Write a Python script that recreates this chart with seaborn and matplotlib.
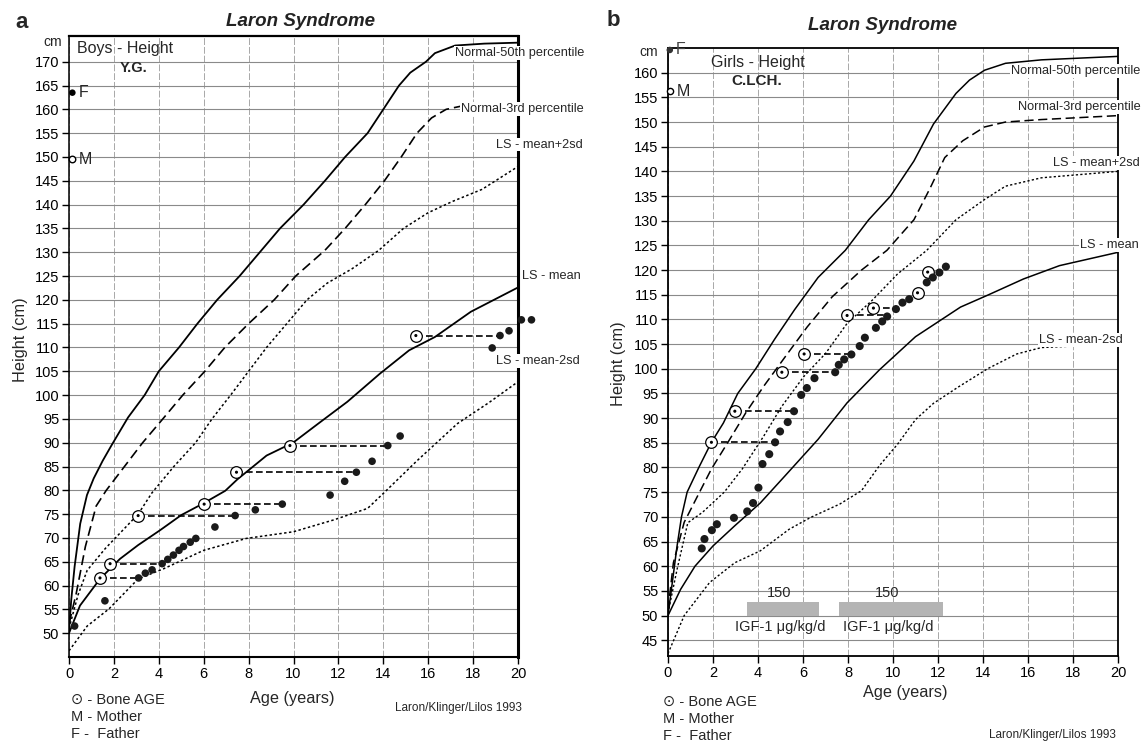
import numpy as np
import pandas as pd
import matplotlib
matplotlib.use("Agg")
import matplotlib.pyplot as plt
import seaborn as sns

# ---------------- data: panel a (boys) ----------------
a_age_n50 = [0, 0.1, 0.25, 0.5, 0.8, 1.1, 1.5, 1.9, 2.63, 3.37, 4.0, 4.9, 5.72, 6.6, 7.6, 8.5, 9.4,
             10.45, 11.4, 12.3, 13.3, 14.0, 14.7, 15.2, 15.9, 16.3, 17.2, 18.5, 20]
a_h_n50 = [50.5, 57, 64, 73, 79, 82.5, 86.2, 89.5, 95.3, 100, 105, 110, 115, 120, 125, 130, 135,
           140, 145, 150, 155, 160, 165, 167.7, 170, 171.8, 173.4, 173.8, 174]
a_age_n3 = [0, 0.32, 0.73, 1.21, 1.66, 2.47, 3.28, 4.18, 5.07, 6.05, 6.94, 8.0, 9.14, 10.1, 11.4,
            12.3, 13.2, 14.05, 14.8, 15.5, 16.15, 16.8, 17.6, 20]
a_h_n3 = [52, 58.3, 68.2, 76.7, 80, 85, 90, 95, 100, 105, 110, 115, 120, 125, 130.4,
          135, 140, 145, 150, 155, 158.2, 160, 160.8, 161.2]
a_age_p2 = [0, 0.4, 0.81, 1.62, 2.27, 3.08, 3.7, 4.67, 5.64, 6.37, 7.2, 8.0, 8.8, 9.7, 10.6, 11.5,
            12.6, 13.8, 14.9, 16.0, 17.1, 18.4, 20]
a_h_p2 = [51, 58, 63.2, 67.8, 71, 75, 79.5, 85, 90, 95, 100, 105, 110, 115, 120, 123.5,
          126.5, 130.4, 135, 138.3, 140.7, 143.2, 148]
a_age_mean = [0, 0.49, 1.38, 2.27, 3.08, 4.05, 5.0, 6.0, 6.96, 7.5, 8.8, 9.98, 11.1, 12.4, 13.85,
              15.15, 16.3, 17.9, 20]
a_h_mean = [50, 55.8, 61.4, 65.6, 68.5, 71.6, 74.8, 77.3, 79.9, 82.3, 87.3, 90, 94, 98.6, 104.5,
            109.4, 112.2, 117.5, 122.6]
a_age_m2 = [0, 0.81, 1.78, 3.08, 4.2, 6.0, 7.9, 10.0, 11.8, 13.3, 14.1, 15.5, 17.3, 18.7, 20]
a_h_m2 = [46.3, 51.5, 55.1, 61.4, 63.5, 67.4, 69.9, 71.3, 73.8, 76.2, 79.8, 86.2, 94, 98.4, 102.8]

a_pt_age = [0.25, 1.6, 3.1, 3.4, 3.7, 4.15, 4.4, 4.65, 4.9, 5.1, 5.4, 5.65, 6.5, 7.4, 8.3, 9.5,
            11.63, 12.28, 12.8, 13.5, 14.2, 14.75, 18.85, 19.2, 19.6, 20.15, 20.6]
a_pt_h = [51.5, 56.8, 61.6, 62.6, 63.3, 64.6, 65.5, 66.4, 67.4, 68.2, 69.1, 69.9, 72.3, 74.7,
          75.9, 77.1, 79.0, 81.9, 83.8, 86.1, 89.4, 91.4, 109.9, 112.5, 113.5, 115.8, 115.8]
a_bone_age = [1.38, 1.83, 3.08, 6.02, 7.46, 9.84, 15.45]
a_bone_chrono = [3.1, 4.15, 7.4, 9.5, 12.8, 14.2, 19.2]
a_bone_h = [61.6, 64.6, 74.7, 77.1, 83.8, 89.4, 112.5]
a_father, a_mother = 163.5, 149.5

# ---------------- data: panel b (girls) ----------------
b_age_n50 = [0, 0.2, 0.4, 0.6, 0.85, 1.37, 1.93, 2.46, 3.1, 3.9, 4.74, 5.63, 6.67, 7.88, 8.92,
             9.89, 10.93, 11.8, 12.8, 13.4, 14.07, 15.0, 16.6, 20]
b_h_n50 = [50, 57, 64, 70, 75, 80, 85.1, 89, 95, 100, 106, 112, 118.5, 124, 130.2,
           135, 142.1, 149.6, 155.8, 158.5, 160.5, 161.9, 162.6, 163.3]
b_age_n3 = [0, 0.24, 0.72, 1.29, 1.93, 2.65, 3.46, 4.26, 5.22, 6.19, 7.3, 8.6, 9.73, 10.93, 11.66,
            12.3, 13.1, 14.07, 15.0, 16.6, 20]
b_h_n3 = [51.2, 60.7, 68.9, 74, 79.7, 85, 91.1, 96.5, 102.5, 108.5, 114.6, 120, 124, 130.2, 136.7,
          142.8, 146.2, 149, 150, 150.5, 151.3]
b_age_p2 = [0, 0.4, 0.88, 1.53, 2.5, 3.3, 4.26, 5.06, 6.03, 7.0, 7.96, 9.08, 10.2, 11.5, 12.8,
            14.07, 15.0, 16.6, 20]
b_h_p2 = [50.5, 59.3, 68.8, 70.9, 75, 79.7, 86.4, 92.4, 98.4, 103.1, 109.2, 113.9, 119.2, 124, 130.2,
          134.3, 137, 138.7, 140]
b_age_mean = [0, 0.56, 1.2, 2.0, 2.97, 4.1, 5.22, 6.67, 7.96, 9.4, 11.0, 13.0, 14.2, 15.8, 17.4, 20]
b_h_mean = [50, 55.3, 60, 64.1, 68.2, 72.8, 78.4, 85.7, 93.1, 99.8, 106.5, 112.5, 114.9, 118.2,
            120.9, 123.6]
b_age_m2 = [0, 0.72, 1.85, 2.97, 4.1, 5.39, 6.35, 7.64, 8.6, 9.4, 10.2, 11.0, 11.8, 12.9, 14.2,
            15.5, 16.6, 20]
b_h_m2 = [42.3, 50, 56.7, 60.7, 63.1, 67.5, 69.9, 72.6, 75.3, 80.4, 84.7, 89.7, 93, 96.3, 100,
          103, 104.3, 105]

b_pt_age = [1.5, 1.62, 1.95, 2.17, 2.93, 3.52, 3.78, 4.02, 4.2, 4.5, 4.76, 4.98, 5.32, 5.6, 5.92,
            6.17, 6.51, 7.43, 7.59, 7.83, 8.15, 8.52, 8.75, 9.24, 9.52, 9.74, 10.13, 10.42, 10.72,
            11.5, 11.77, 12.06, 12.35]
b_pt_h = [63.6, 65.5, 67.3, 68.5, 69.8, 71.1, 72.8, 75.9, 80.7, 82.7, 85.1, 87.3, 89.2, 91.4, 94.7,
          96.1, 98.1, 99.3, 100.8, 101.9, 102.9, 104.6, 106.3, 108.3, 109.6, 110.6, 112.1, 113.4,
          114.1, 117.5, 118.5, 119.5, 120.7]
b_bone_age = [1.93, 2.97, 5.06, 6.05, 7.96, 9.13, 11.09, 11.54]
b_bone_h = [85.1, 91.4, 99.3, 103.0, 110.8, 112.3, 115.4, 119.6]
b_bone_chrono = [4.76, 5.6, 7.43, 8.15, 9.74, 10.13]
b_father, b_mother = 164.6, 156.2

igf_start = [3.5, 7.6]
igf_end = [6.7, 12.2]
igf_dose = ["150", "150"]

# ---------------- figure ----------------
sns.set_theme(style="white")
plt.rcParams["font.family"] = ["Liberation Sans", "DejaVu Sans"]
plt.rcParams["hatch.color"] = "#8a8a8a"
W, H = 1143, 741
fig = plt.figure(figsize=(W / 100, H / 100), dpi=100)
fig.patch.set_facecolor("white")


def rect(l, r, t, b):
    return [l / W, 1 - b / H, (r - l) / W, (b - t) / H]


axA = fig.add_axes(rect(69, 518, 36, 657))
axB = fig.add_axes(rect(668, 1118, 48, 656))

SOLID = "-"
DASH = (0, (6, 3))
DOT = (0, (1.6, 1.6))


def curve(ax, x, y, ls, lw=1.2):
    sns.lineplot(x=x, y=y, ax=ax, color="black", lw=lw, linestyle=ls, sort=False,
                 estimator=None, zorder=3)


def style_axes(ax, yticks, ylim):
    ax.set_xlim(0, 20)
    ax.set_ylim(*ylim)
    ax.set_xticks(range(0, 21, 2))
    ax.set_yticks(yticks)
    ax.grid(True, axis="y", color="#8a8a8a", lw=0.8, ls="-", zorder=0)
    ax.grid(True, axis="x", color="#a8a8a8", lw=0.7, ls=(0, (7, 2)), zorder=0)
    ax.tick_params(axis="both", which="major", direction="out", length=5, width=1,
                   bottom=True, left=True, labelsize=10.5, pad=2, colors="black")
    for s in ax.spines.values():
        s.set_color("black")
        s.set_visible(True)


def bone(ax, ages, hs, chrono):
    segs = []
    for i, c in enumerate(chrono):
        segs.append({"pair": i, "age": ages[i], "h": hs[i]})
        segs.append({"pair": i, "age": c, "h": hs[i]})
    df = pd.DataFrame(segs)
    sns.lineplot(data=df, x="age", y="h", units="pair", estimator=None, ax=ax, color="black",
                 lw=1.2, linestyle=(0, (4, 2)), zorder=3)
    sns.scatterplot(x=ages, y=hs, ax=ax, s=70, facecolor="white", edgecolor="black",
                    linewidth=0.9, zorder=5, clip_on=False)
    sns.scatterplot(x=ages, y=hs, ax=ax, s=5, color="black", edgecolor="none", zorder=6,
                    clip_on=False)


lab_kw = dict(fontsize=9.2, va="center", ha="left", zorder=10, clip_on=False,
              bbox=dict(fc="white", ec="none", pad=0.6))

# ---------- panel a ----------
ax = axA
style_axes(ax, range(50, 171, 5), (45, 175.4))
curve(ax, a_age_n50, a_h_n50, SOLID, 1.3)
curve(ax, a_age_n3, a_h_n3, DASH, 1.2)
curve(ax, a_age_p2, a_h_p2, DOT, 1.1)
curve(ax, a_age_mean, a_h_mean, SOLID, 1.3)
curve(ax, a_age_m2, a_h_m2, DOT, 1.1)
bone(ax, a_bone_age, a_bone_h, a_bone_chrono)
sns.scatterplot(x=a_pt_age, y=a_pt_h, ax=ax, s=30, color="#1a1a1a", edgecolor="none", zorder=6,
                clip_on=False)
sns.scatterplot(x=[0.15], y=[a_father], ax=ax, s=22, color="black", edgecolor="none",
                zorder=6, clip_on=False)
sns.scatterplot(x=[0.15], y=[a_mother], ax=ax, s=22, facecolor="white", edgecolor="black",
                linewidth=1, zorder=6, clip_on=False)
ax.text(0.42, a_father, "F", fontsize=11.5, va="center", ha="left")
ax.text(0.42, a_mother, "M", fontsize=11.5, va="center", ha="left")
ax.spines["left"].set_linewidth(1.1)
ax.spines["bottom"].set_linewidth(1.5)
ax.spines["top"].set_linewidth(1.6)
ax.spines["right"].set_linewidth(2.2)
ax.text(17.2, 171.9, "Normal-50th percentile", **lab_kw)
ax.text(17.45, 160.0, "Normal-3rd percentile", **lab_kw)
ax.text(19.0, 152.6, "LS - mean+2sd", **lab_kw)
ax.text(20.2, 124.9, "LS - mean", **lab_kw)
ax.text(19.0, 107.1, "LS - mean-2sd", **lab_kw)
ax.set_xlabel("")
ax.set_ylabel("")

# ---------- panel b ----------
ax = axB
style_axes(ax, range(45, 161, 5), (41.8, 165))
for x0, x1, d in zip(igf_start, igf_end, igf_dose):
    ax.barh(y=50, width=x1 - x0, left=x0, height=2.8, align="edge", color="#b4b4b4",
            edgecolor="none", hatch="......", zorder=2)
    ax.text((x0 + x1) / 2 - 0.15, 54.6, d, fontsize=10.5, ha="center", va="center")
    ax.text((x0 + x1) / 2 - 0.1, 47.6, "IGF-1 μg/kg/d", fontsize=10.5, ha="center",
            va="center")
curve(ax, b_age_n50, b_h_n50, SOLID, 1.1)
curve(ax, b_age_n3, b_h_n3, DASH, 1.1)
curve(ax, b_age_p2, b_h_p2, DOT, 1.0)
curve(ax, b_age_mean, b_h_mean, SOLID, 1.1)
curve(ax, b_age_m2, b_h_m2, DOT, 1.0)
bone(ax, b_bone_age, b_bone_h, b_bone_chrono)
sns.scatterplot(x=b_pt_age, y=b_pt_h, ax=ax, s=34, color="#1a1a1a", edgecolor="none", zorder=6,
                clip_on=False)
sns.scatterplot(x=[0.08], y=[b_father], ax=ax, s=22, color="#333333", edgecolor="none",
                zorder=6, clip_on=False)
sns.scatterplot(x=[0.1], y=[b_mother], ax=ax, s=20, facecolor="white", edgecolor="black",
                linewidth=1, zorder=6, clip_on=False)
ax.text(0.35, b_father, "F", fontsize=11.5, va="center", ha="left", color="#444444")
ax.text(0.4, b_mother, "M", fontsize=11.5, va="center", ha="left")
for s in ax.spines.values():
    s.set_linewidth(1.3)
ax.text(15.25, 160.4, "Normal-50th percentile", **lab_kw)
ax.text(15.55, 153.1, "Normal-3rd percentile", **lab_kw)
ax.text(17.1, 141.7, "LS - mean+2sd", **lab_kw)
ax.text(18.3, 125.1, "LS - mean", **lab_kw)
ax.text(16.5, 105.8, "LS - mean-2sd", **lab_kw)
ax.set_xlabel("")
ax.set_ylabel("")

# ---------- figure texts ----------
def ft(x, y, s, **kw):
    fig.text(x / W, 1 - y / H, s, **kw)

ft(22, 22, "a", fontsize=16, fontweight="bold", ha="center", va="center")
ft(613, 20, "b", fontsize=16, fontweight="bold", ha="center", va="center")
ft(300, 22, "Laron Syndrome", fontsize=13.5, fontweight="bold", fontstyle="italic",
   ha="center", va="center", color="#222222")
ft(883, 25, "Laron Syndrome", fontsize=13.5, fontweight="bold", fontstyle="italic",
   ha="center", va="center", color="#222222")
ft(77, 49, "Boys - Height", fontsize=11.5, ha="left", va="center")
ft(120, 68, "Y.G.", fontsize=10.5, fontweight="bold", ha="left", va="center")
ft(711, 62, "Girls - Height", fontsize=11.5, ha="left", va="center")
ft(731, 81, "C.LCH.", fontsize=11, fontweight="bold", ha="left", va="center")
ft(53, 42, "cm", fontsize=10, ha="center", va="center")
ft(649, 52, "cm", fontsize=10, ha="center", va="center")
ft(21, 340, "Height (cm)", fontsize=11.7, rotation=90, ha="center", va="center")
ft(618, 364, "Height (cm)", fontsize=11.7, rotation=90, ha="center", va="center")
ft(292, 698, "Age (years)", fontsize=11.7, ha="center", va="center")
ft(905, 692, "Age (years)", fontsize=11.7, ha="center", va="center")
for x0, ys in ((71, (700, 717, 734)), (663, (702, 719, 736))):
    ft(x0, ys[0], "⊙ - Bone AGE", fontsize=10.5, ha="left", va="center")
    ft(x0, ys[1], "M - Mother", fontsize=10.5, ha="left", va="center")
    ft(x0, ys[2], "F -  Father", fontsize=10.5, ha="left", va="center")
ft(522, 708, "Laron/Klinger/Lilos 1993", fontsize=8.5, ha="right", va="center")
ft(1116, 735, "Laron/Klinger/Lilos 1993", fontsize=8.5, ha="right", va="center")

fig.savefig("out.png", dpi=100, facecolor="white")
